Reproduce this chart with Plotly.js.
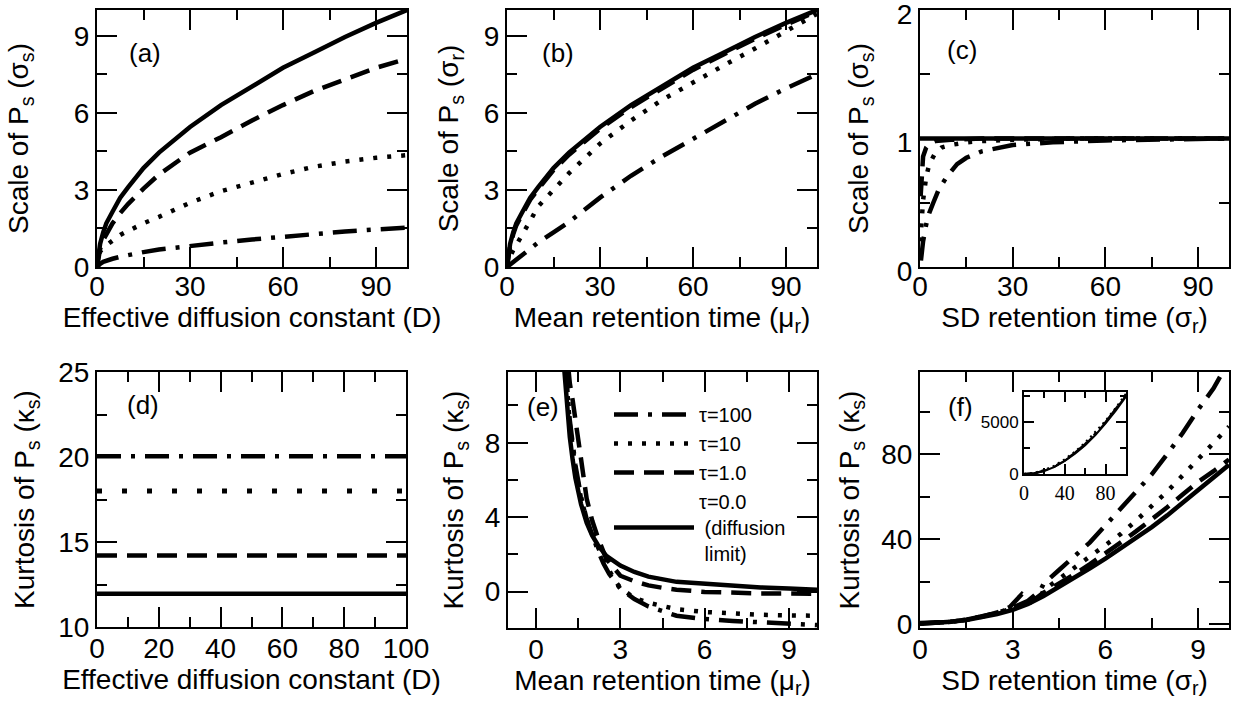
<!DOCTYPE html>
<html><head><meta charset="utf-8">
<script src="https://cdn.plot.ly/plotly-3.0.1.min.js"></script>
<style>html,body{margin:0;padding:0;background:#fff}</style>
</head><body><div id="chart" style="width:1239px;height:704px"></div>
<script>
// ---------------- data ----------------
// (a) scale vs effective diffusion constant D
const aD      = [0,0.5,1,2,3,5,7.5,10,15,20,30,40,50,60,70,80,90,100];
const aTau0   = [0,0.6,0.9,1.35,1.7,2.15,2.7,3.1,3.85,4.45,5.45,6.3,7.05,7.75,8.35,8.95,9.5,10.0];
const aTau1   = [0,0.5,0.7,1.05,1.3,1.7,2.1,2.45,3.05,3.6,4.45,5.05,5.7,6.3,6.85,7.3,7.75,8.1];
const aTau10  = [0,0.45,0.6,0.75,0.85,1.05,1.25,1.4,1.7,1.95,2.5,2.95,3.3,3.62,3.9,4.1,4.25,4.35];
const aTau100 = [0,0.08,0.12,0.2,0.25,0.32,0.4,0.47,0.58,0.68,0.83,0.95,1.07,1.18,1.28,1.38,1.46,1.53];
// (b) scale vs mean retention time
const bMu     = [0,0.5,1,2,3,5,7.5,10,15,20,30,40,50,60,70,80,90,100];
const bTau0   = [0,0.6,0.9,1.35,1.7,2.15,2.7,3.1,3.85,4.45,5.45,6.3,7.05,7.75,8.35,8.95,9.5,10.0];
const bTau1   = [0,0.55,0.82,1.27,1.62,2.07,2.62,3.02,3.77,4.37,5.37,6.22,6.97,7.67,8.28,8.88,9.43,9.95];
const bTau10  = [0,0.25,0.4,0.65,0.85,1.3,1.8,2.35,3.03,3.65,4.8,5.7,6.5,7.2,7.85,8.5,9.2,9.85];
const bTau100 = [0,0.05,0.1,0.2,0.3,0.45,0.7,0.95,1.35,1.75,2.7,3.55,4.3,5.0,5.7,6.35,6.95,7.5];
// (c) scale vs SD retention time
const cSig0    = [0,25,50,75,100];
const cTau0    = [1,1,1,1,1];
const cSig1    = [0.2,0.5,1,2,3,5,10,20,30,50,100];
const cTau1    = [0.55,0.72,0.86,0.93,0.96,0.98,0.99,1,1,1,1];
const cSig10   = [0.1,0.5,1,2,3,5,7,10,15,20,30,50,100];
const cTau10   = [0.2,0.38,0.52,0.7,0.8,0.89,0.93,0.95,0.97,0.98,0.99,1,1];
const cSig100  = [0.3,1,2,3,4.3,6,8.6,12,15,20,30,43,60,80,100];
const cTau100  = [0.05,0.2,0.33,0.42,0.5,0.6,0.7,0.8,0.85,0.9,0.95,0.97,0.985,0.99,1.0];
// (d) kurtosis vs D
const dD      = [0,100];
const dTau0   = [11.95,11.95];
const dTau1   = [14.2,14.2];
const dTau10  = [18.0,18.0];
const dTau100 = [20.05,20.05];
// (e) kurtosis vs mean retention time
const eMu0    = [1.0,1.1,1.2,1.3,1.4,1.6,1.8,2.0,2.2,2.5,3.0,3.5,4,5,6,7,8,9,10];
const eTau0   = [12.0,9.9,8.3,7.1,6.1,4.7,3.7,3.0,2.5,1.92,1.4,1.05,0.8,0.52,0.4,0.3,0.22,0.16,0.1];
const eMu1    = [1.15,1.2,1.3,1.4,1.5,1.6,1.8,2.0,2.2,2.5,3.0,3.5,4,4.5,5,6,7,8,9,10];
const eTau1   = [12.0,11.2,10.3,9.2,8.0,6.8,5.0,3.8,2.9,1.75,0.85,0.55,0.33,0.2,0.1,-0.02,-0.07,-0.1,-0.1,-0.12];
const eMuX    = [1.05,1.2,1.4,1.6,1.8,2.0,2.2,2.4,2.6,2.8,3.0,3.5,4,5,6,7,8,9,10];
const eTau10  = [12.0,9.0,6.6,5.0,3.9,3.1,2.4,1.7,1.1,0.6,0.2,-0.35,-0.6,-0.95,-1.1,-1.2,-1.25,-1.28,-1.3];
const eTau100 = [12.0,9.2,6.8,5.1,3.9,3.0,2.2,1.5,0.95,0.55,0.15,-0.4,-0.8,-1.3,-1.48,-1.58,-1.65,-1.72,-1.8];
// (f) kurtosis vs SD retention time
const fSig     = [0,0.5,1,1.5,2,2.5,3,3.5,4,4.5,5,5.5,6,6.5,7,7.5,8,8.5,9,9.5,10];
const fTau0    = [0.2,0.5,1.1,2.0,3.2,4.8,6.7,9.5,13.3,17.5,21.8,26.3,30.9,35.7,40.7,45.7,51.2,57.0,62.9,68.9,75.0];
const fSig1    = [0,0.5,1,1.5,2,2.5,2.9,3.3,3.6,4,4.5,5,5.5,6,6.5,7,7.5,8,8.5,9,9.5,10];
const fTau1    = [0.5,0.6,1.2,2.1,3.5,5.5,8.0,14.2,10.5,14.8,19.0,23.5,28.3,33.2,38.5,43.8,49.2,55.0,61.0,67.0,72.0,77.5];
const fSigX    = [0,0.5,1,1.5,2,2.5,3,3.5,3.9,4,4.5,5,5.5,6,6.5,7,7.5,8,8.5,9,9.5,10];
const fTau10   = [0.3,0.6,1.1,2.1,3.4,5.2,7.5,10.5,13.0,16.0,21.3,26.3,31.3,36.8,42.5,48.8,55.5,62.5,70.0,77.7,85.5,93.0];
const fTau100  = [0.3,0.6,1.1,2.1,3.5,5.4,7.8,11.0,16.0,19.0,25.5,32.0,38.5,46.5,54.5,63.0,70.5,80.0,90.0,101.0,111.0,124.0];
// (f) inset
const gSig     = [0,10,20,30,40,50,60,70,80,90,100];
const gTau0    = [0,60,290,680,1250,1950,2780,3760,4880,6100,7450];
const gTau1    = [0,70,310,710,1290,2000,2850,3840,4960,6200,7550];
const gTau10   = [0,90,360,790,1400,2130,3000,4000,5100,6350,7700];
const gTau100  = [0,80,330,750,1340,2060,2920,3920,5030,6280,7620];
// legend labels
const tauNames = ['τ=100','τ=10','τ=1.0','τ=0.0<br>&nbsp;(diffusion<br>&nbsp;limit)'];

// ---------------- styles ----------------
const W = 1239, H = 704;
const FONT = 'Liberation Sans, Arial, sans-serif';
const ST = {
  t100: {color:'black', width:4.5, dash:'24px,10px,4px,10px'},
  t10:  {color:'black', width:4.5, dash:'4px,10px'},
  t1:   {color:'black', width:4.5, dash:'20px,10px'},
  t0:   {color:'black', width:4.5, dash:'solid'}
};
function tr(x, y, xa, ya, st, name, show, w) {
  const line = Object.assign({}, st);
  if (w) line.width = w;
  return {x:x, y:y, xaxis:xa, yaxis:ya, type:'scatter', mode:'lines', line:line,
          name:name || '', showlegend:!!show, hoverinfo:'skip'};
}
const traces = [
  tr(aD, aTau100, 'x','y', ST.t100), tr(aD, aTau10, 'x','y', ST.t10),
  tr(aD, aTau1, 'x','y', ST.t1), tr(aD, aTau0, 'x','y', ST.t0),
  tr(bMu, bTau100, 'x2','y2', ST.t100), tr(bMu, bTau10, 'x2','y2', ST.t10),
  tr(bMu, bTau1, 'x2','y2', ST.t1), tr(bMu, bTau0, 'x2','y2', ST.t0),
  tr(cSig100, cTau100, 'x3','y3', ST.t100), tr(cSig10, cTau10, 'x3','y3', ST.t10),
  tr(cSig1, cTau1, 'x3','y3', ST.t1), tr(cSig0, cTau0, 'x3','y3', ST.t0),
  tr(dD, dTau100, 'x4','y4', ST.t100), tr(dD, dTau10, 'x4','y4', {color:'black', width:5, dash:'5px,20px'}),
  tr(dD, dTau1, 'x4','y4', ST.t1), tr(dD, dTau0, 'x4','y4', ST.t0),
  tr(eMuX, eTau100, 'x5','y5', ST.t100, tauNames[0], true),
  tr(eMuX, eTau10, 'x5','y5', ST.t10, tauNames[1], true),
  tr(eMu1, eTau1, 'x5','y5', ST.t1, tauNames[2], true),
  tr(eMu0, eTau0, 'x5','y5', ST.t0, tauNames[3], true),
  tr(fSigX, fTau100, 'x6','y6', ST.t100), tr(fSigX, fTau10, 'x6','y6', ST.t10),
  tr(fSig1, fTau1, 'x6','y6', ST.t1), tr(fSig, fTau0, 'x6','y6', ST.t0),
  tr(gSig, gTau100, 'x7','y7', ST.t100, '', false, 2), tr(gSig, gTau10, 'x7','y7', {color:'black', width:2.5, dash:'2px,4px'}),
  tr(gSig, gTau1, 'x7','y7', ST.t1, '', false, 2), tr(gSig, gTau0, 'x7','y7', ST.t0, '', false, 2)
];

function ax(o, minorDtick) {
  const base = {
    showline:true, linecolor:'black', linewidth:2, mirror:'allticks',
    ticks:'inside', ticklen:20, tickwidth:2, tickcolor:'black',
    showgrid:false, zeroline:false, automargin:false, fixedrange:true,
    ticklabeloverflow:'allow',
    tickfont:{family:FONT, size:28, color:'black'},
    minor:{ticks:'inside', ticklen:10, tickwidth:2, tickcolor:'black', showgrid:false, dtick:minorDtick}
  };
  return Object.assign(base, o);
}
function ttl(text, standoff) {
  return {text:text, standoff:standoff, font:{family:FONT, size:28, color:'black'}};
}
function dx(l, r) { return [l / W, r / W]; }
function dy(t, b) { return [1 - b / H, 1 - t / H]; }

const kTitle = 'Kurtosis of P<sub>s</sub> (κ<sub>s</sub>)';
const dTitle = 'Effective diffusion constant (D)';
const layout = {
  width:W, height:H, autosize:false,
  margin:{l:0, r:0, t:0, b:0, pad:0},
  paper_bgcolor:'white', plot_bgcolor:'rgba(0,0,0,0)',
  font:{family:FONT, color:'black'},
  xaxis:  ax({domain:dx(97,407),  anchor:'y',  range:[0,100], dtick:30, tick0:0, ticklabelstandoff:-7,
              title:ttl(dTitle, 7)}, 15),
  yaxis:  ax({domain:dy(10,267),  anchor:'x',  range:[0,10], dtick:3, tick0:0,
              title:ttl('Scale of P<sub>s</sub> (σ<sub>s</sub>)', 37)}, 1.5),
  xaxis2: ax({domain:dx(507,817), anchor:'y2', range:[0,100], dtick:30, tick0:0, ticklabelstandoff:-7,
              title:ttl('Mean retention time (μ<sub>r</sub>)', 7)}, 15),
  yaxis2: ax({domain:dy(10,267),  anchor:'x2', range:[0,10], dtick:3, tick0:0,
              title:ttl('Scale of P<sub>s</sub> (σ<sub>r</sub>)', 17)}, 1.5),
  xaxis3: ax({domain:dx(920,1229), anchor:'y3', range:[0,100], dtick:30, tick0:0, ticklabelstandoff:-7,
              title:ttl('SD retention time (σ<sub>r</sub>)', 7)}, 15),
  yaxis3: ax({domain:dy(10,267),  anchor:'x3', range:[0,2], dtick:1, tick0:0, ticklabelshift:4,
              title:ttl('Scale of P<sub>s</sub> (σ<sub>s</sub>)', 20)}, 0.5),
  xaxis4: ax({domain:dx(97,406),  anchor:'y4', range:[0,100], dtick:20, tick0:0, ticklabelstandoff:-5,
              title:ttl(dTitle, 4)}, 10),
  yaxis4: ax({domain:dy(372,627), anchor:'x4', range:[10,25], dtick:5, tick0:0,
              title:ttl(kTitle, 15)}, 2.5),
  xaxis5: ax({domain:dx(508,817), anchor:'y5', range:[-1,10], dtick:3, tick0:0, ticklabelstandoff:-5,
              title:ttl('Mean retention time (μ<sub>r</sub>)', 4)}, 1.5),
  yaxis5: ax({domain:dy(372,628), anchor:'x5', range:[-1.96,11.8], dtick:4, tick0:0,
              title:ttl(kTitle, 13)}, 2),
  xaxis6: ax({domain:dx(920,1229), anchor:'y6', range:[0,10], dtick:3, tick0:0, ticklabelstandoff:-5,
              title:ttl('SD retention time (σ<sub>r</sub>)', 4)}, 1.5),
  yaxis6: ax({domain:dy(372,628), anchor:'x6', range:[-1.8,118.7], dtick:40, tick0:0,
              title:ttl(kTitle, 13)}, 20),
  xaxis7: ax({domain:dx(1024,1126), anchor:'y7', range:[0,100], dtick:40, tick0:0, ticklen:10,
              tickfont:{family:'Liberation Serif, Times New Roman, serif', size:20, color:'black'}}, 20),
  yaxis7: ax({domain:dy(392,474), anchor:'x7', range:[0,7900], dtick:5000, tick0:0, ticklen:10,
              tickfont:{family:FONT, size:17, color:'black'}}, 2500),
  legend: {x:609 / W, y:1 - 395 / H, xanchor:'left', yanchor:'top',
           bgcolor:'rgba(0,0,0,0)', borderwidth:0, itemwidth:80, traceorder:'normal',
           font:{family:FONT, size:20, color:'black'}},
  annotations: []
};
layout.xaxis7.minor.ticklen = 6;
layout.yaxis7.minor.ticklen = 6;

const panelLabels = [
  ['(a)', 'x', 'y', 0.097, 0.833], ['(b)', 'x2', 'y2', 0.106, 0.833], ['(c)', 'x3', 'y3', 0.081, 0.844],
  ['(d)', 'x4', 'y4', 0.09, 0.871], ['(e)', 'x5', 'y5', 0.055, 0.864], ['(f)', 'x6', 'y6', 0.084, 0.864]
];
panelLabels.forEach(p => layout.annotations.push({
  text:p[0], xref:p[1] + ' domain', yref:p[2] + ' domain', x:p[3], y:p[4],
  xanchor:'left', yanchor:'middle', showarrow:false, font:{family:FONT, size:26, color:'black'}
}));

Plotly.newPlot('chart', traces, layout, {staticPlot:true, displayModeBar:false});
</script>
</body></html>
